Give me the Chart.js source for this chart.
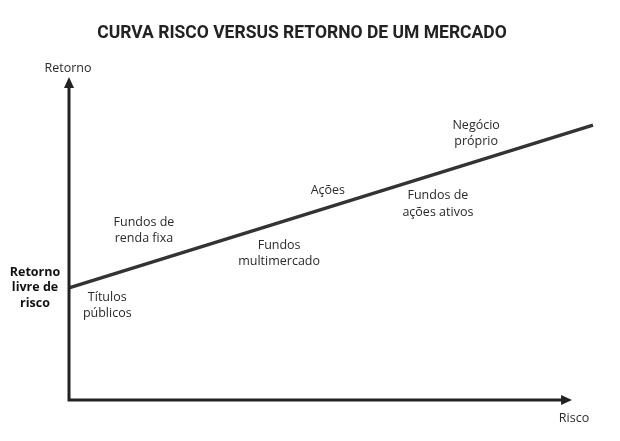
<!DOCTYPE html>
<html>
<head>
<meta charset="utf-8">
<script src="https://cdn.jsdelivr.net/npm/chart.js@4"></script>
<style>
  body { margin: 0; background: #fff; }
  #wrap { width: 620px; height: 441px; }
</style>
</head>
<body>
<div id="wrap"><canvas id="riskChart"></canvas></div>
<script>
// curva risco x retorno (escala 0-100 nos dois eixos)
const riskPoints = [0, 100];
const returnPoints = [34.7, 85.1];

// rótulos de cada investimento: texto, risco, retorno
const assetNames = [
    ["Negócio", "próprio"],
    ["Ações"],
    ["Fundos de", "ações ativos"],
    ["Fundos de", "renda fixa"],
    ["Fundos", "multimercado"],
    ["Títulos", "públicos"]
];
const assetRisk = [77.7, 49.4, 70.4, 14.3, 40.1, 7.3];
const assetReturn = [82.5, 65.0, 60.7, 52.5, 45.4, 29.3];

const riskFreeLabel = ["Retorno", "livre de", "risco"];
const xAxisName = "Risco";
const yAxisName = "Retorno";
const xAxisEnd = 96;
const yAxisEnd = 100;

const INK = '#222222';

function arrowHead(ctx, x, y, dir) {
    ctx.beginPath();
    if (dir === 'up') {
        ctx.moveTo(x, y);
        ctx.lineTo(x - 5, y + 11);
        ctx.lineTo(x + 5, y + 11);
    } else {
        ctx.moveTo(x, y);
        ctx.lineTo(x - 11, y - 5);
        ctx.lineTo(x - 11, y + 5);
    }
    ctx.closePath();
    ctx.fill();
}

const axesAndLabels = {
    id: 'axesAndLabels',
    afterDatasetsDraw(chart) {
        const ctx = chart.ctx;
        const xs = chart.scales.x;
        const ys = chart.scales.y;
        const x0 = xs.getPixelForValue(0);
        const y0 = ys.getPixelForValue(0);
        const xEnd = xs.getPixelForValue(xAxisEnd);
        const yEnd = ys.getPixelForValue(yAxisEnd);

        ctx.save();
        ctx.strokeStyle = INK;
        ctx.fillStyle = INK;
        ctx.lineWidth = 3;
        ctx.beginPath();
        ctx.moveTo(x0, yEnd + 8);
        ctx.lineTo(x0, y0);
        ctx.lineTo(xEnd - 8, y0);
        ctx.stroke();
        arrowHead(ctx, x0, yEnd, 'up');
        arrowHead(ctx, xEnd, y0, 'right');

        ctx.textAlign = 'center';
        ctx.textBaseline = 'middle';
        ctx.fillStyle = '#2a2a2a';
        ctx.font = '12.5px "Open Sans"';
        ctx.fillText(yAxisName, x0 - 1, yEnd - 9);
        ctx.fillText(xAxisName, xEnd + 2, y0 + 18);

        assetNames.forEach((lines, i) => {
            const cx = xs.getPixelForValue(assetRisk[i]);
            const cy = ys.getPixelForValue(assetReturn[i]);
            const top = cy - (lines.length - 1) * 16.5 / 2;
            lines.forEach((t, j) => ctx.fillText(t, cx, top + j * 16.5));
        });

        ctx.font = 'bold 12.5px "Open Sans"';
        ctx.fillStyle = '#111';
        const ry = ys.getPixelForValue(returnPoints[0]);
        riskFreeLabel.forEach((t, j) => ctx.fillText(t, 35, ry - 15.5 + j * 15.5));
        ctx.restore();
    }
};

new Chart(document.getElementById('riskChart'), {
    type: 'scatter',
    data: {
        datasets: [{
            data: riskPoints.map((r, i) => ({ x: r, y: returnPoints[i] })),
            showLine: true,
            borderColor: '#333333',
            borderWidth: 3.5,
            pointRadius: 0,
            fill: false
        }]
    },
    options: {
        responsive: true,
        maintainAspectRatio: false,
        animation: false,
        layout: { padding: { left: 0, right: 16, top: 0, bottom: 41 } },
        plugins: {
            legend: { display: false },
            tooltip: { enabled: false },
            title: {
                display: true,
                text: 'CURVA RISCO VERSUS RETORNO DE UM MERCADO',
                color: '#222',
                font: { family: 'Roboto', size: 17.5, weight: 'bold', lineHeight: 1.2 },
                padding: { top: 23, bottom: 33 }
            }
        },
        scales: {
            x: { type: 'linear', min: -13.17, max: 102.1, display: false },
            y: { type: 'linear', min: 0, max: 100, display: false }
        }
    },
    plugins: [axesAndLabels]
});
</script>
</body>
</html>
